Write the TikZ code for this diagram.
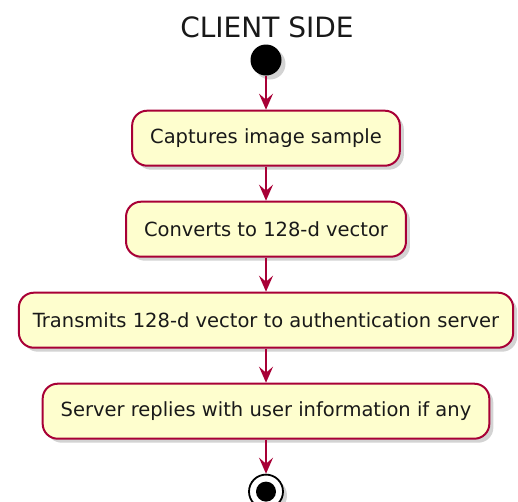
\documentclass[tikz,border=0pt]{standalone}
\usepackage{fontspec}
\setmainfont{DejaVu Sans}
\usetikzlibrary{positioning,arrows.meta,shadows}
\definecolor{umlred}{HTML}{A80036}
\definecolor{umlfill}{HTML}{FEFECE}
\tikzset{
	umlshadow/.style={drop shadow={shadow xshift=4pt, shadow yshift=-4pt, opacity=0.35}},
	action/.style={draw=umlred, fill=umlfill, line width=2pt, rounded corners=15pt, minimum height=55pt, inner xsep=18pt, font=\fontsize{19.5}{23}\selectfont, text=black!90, umlshadow},
	flow/.style={draw=umlred, line width=1.5pt, -{Stealth[length=16pt, width=14pt, inset=6pt]}}
}
\begin{document}
\begin{tikzpicture}[x=1pt, y=-1pt, node distance=34pt]
	\useasboundingbox (0,0) rectangle (518,501);
	\node[black!90, anchor=base, font=\fontsize{28}{32}\selectfont] (title) at (267,37) {CLIENT SIDE};
	\node[circle, fill=black, minimum size=31pt, inner sep=0pt, umlshadow] (start) at (266,60) {};
	\node[action, below=of start] (capture) {Captures image sample};
	\node[action, below=of capture] (convert) {Converts to 128-d vector};
	\node[action, below=of convert, inner xsep=14pt] (transmit) {Transmits 128-d vector to authentication server};
	\node[action, below=of transmit] (reply) {Server replies with user information if any};
	\node[circle, draw=black, line width=1.8pt, fill=white, minimum size=34pt, inner sep=0pt, below=of reply, umlshadow] (stop) {};
	\node[circle, fill=black, minimum size=20pt, inner sep=0pt] (stopdot) at (stop) {};
	\draw[flow] (start) -- (capture);
	\draw[flow] (capture) -- (convert);
	\draw[flow] (convert) -- (transmit);
	\draw[flow] (transmit) -- (reply);
	\draw[flow] (reply) -- (stop);
\end{tikzpicture}
\end{document}
